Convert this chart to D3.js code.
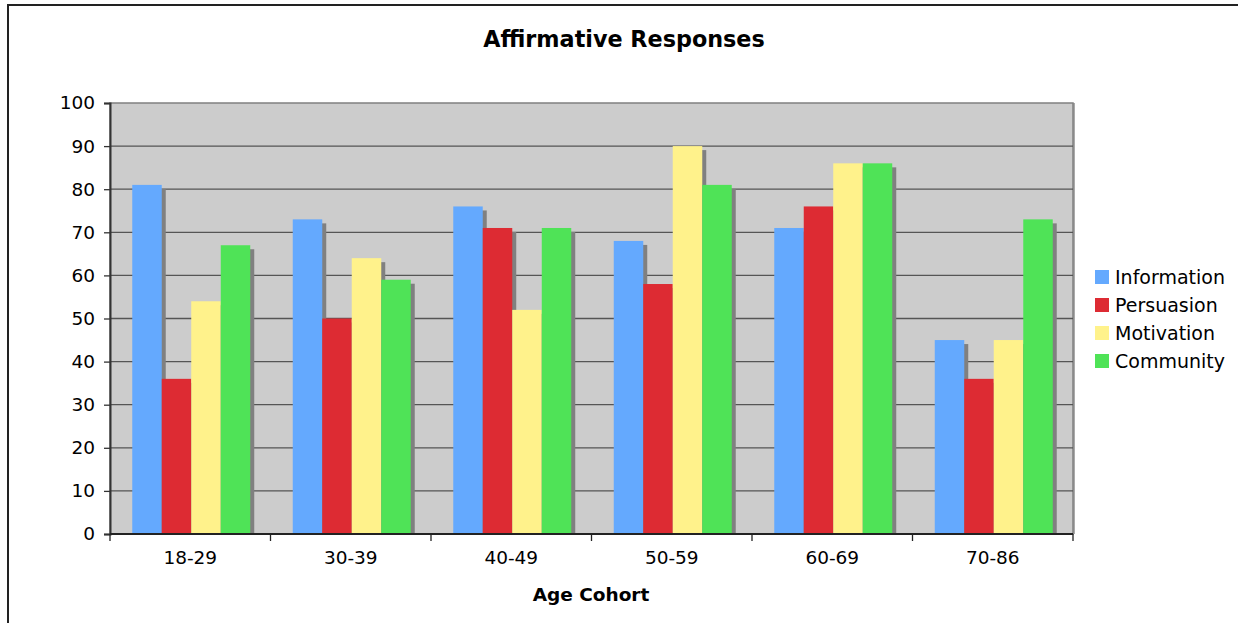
<!DOCTYPE html>
<html>
<head>
<meta charset="utf-8">
<script src="https://cdn.jsdelivr.net/npm/d3@7"></script>
<style>
  body { margin: 0; background: #fff; }
  text { font-family: "DejaVu Sans", Verdana, sans-serif; fill: #000; }
</style>
</head>
<body>
<svg id="chart" width="1238" height="623"></svg>
<script>
var cohorts = ["18-29", "30-39", "40-49", "50-59", "60-69", "70-86"];
var seriesNames = ["Information", "Persuasion", "Motivation", "Community"];
var information = [81, 73, 76, 68, 71, 45];
var persuasion = [36, 50, 71, 58, 76, 36];
var motivation = [54, 64, 52, 90, 86, 45];
var community = [67, 59, 71, 81, 86, 73];
var yTicks = [0, 10, 20, 30, 40, 50, 60, 70, 80, 90, 100];
var colors = ["#64a9fe", "#dd2b33", "#fff28b", "#4fe357"];

var seriesValues = [information, persuasion, motivation, community];

var svg = d3.select("#chart");

// outer frame
svg.append("rect")
  .attr("x", 8).attr("y", 5)
  .attr("width", 1300).attr("height", 700)
  .attr("fill", "#fff")
  .attr("stroke", "#222")
  .attr("stroke-width", 2);

var plotLeft = 110, plotTop = 103, plotRight = 1073, plotBottom = 534;

var x = d3.scaleBand()
  .domain(cohorts)
  .range([plotLeft, plotRight]);

var inner = d3.scaleBand()
  .domain(seriesNames)
  .range([0, 118]);

var y = d3.scaleLinear()
  .domain([0, 100])
  .range([plotBottom, plotTop]);

// plot background
svg.append("rect")
  .attr("x", plotLeft).attr("y", plotTop)
  .attr("width", plotRight - plotLeft + 2).attr("height", plotBottom - plotTop)
  .attr("fill", "#aaaaaa");
svg.append("rect")
  .attr("x", plotLeft).attr("y", plotTop)
  .attr("width", plotRight - plotLeft).attr("height", plotBottom - plotTop)
  .attr("fill", "#cccccc")
  .attr("stroke", "#808080")
  .attr("stroke-width", 1.5);

// gridlines
svg.append("g")
  .selectAll("line")
  .data(yTicks.slice(1, -1))
  .enter()
  .append("line")
  .attr("x1", plotLeft).attr("x2", plotRight)
  .attr("y1", d => y(d)).attr("y2", d => y(d))
  .attr("stroke", "#555")
  .attr("stroke-width", 1.3);

var groups = svg.append("g")
  .selectAll("g")
  .data(cohorts)
  .enter()
  .append("g")
  .attr("transform", d => "translate(" + (x(d) + (x.bandwidth() - 118) / 2 + 1) + ",0)");

// shadows
groups.selectAll(".shadow")
  .data((c, i) => seriesNames.map((s, j) => ({ s: s, v: seriesValues[j][i] })))
  .enter()
  .append("rect")
  .attr("class", "shadow")
  .attr("x", d => inner(d.s) + 4)
  .attr("y", d => y(d.v) + 4)
  .attr("width", inner.bandwidth())
  .attr("height", d => plotBottom - y(d.v) - 4)
  .attr("fill", "#808080");

groups.selectAll(".bar")
  .data((c, i) => seriesNames.map((s, j) => ({ s: s, j: j, v: seriesValues[j][i] })))
  .enter()
  .append("rect")
  .attr("class", "bar")
  .attr("x", d => inner(d.s))
  .attr("y", d => y(d.v))
  .attr("width", inner.bandwidth())
  .attr("height", d => plotBottom - y(d.v))
  .attr("fill", d => colors[d.j]);

// y axis
var yAxis = svg.append("g")
  .attr("transform", "translate(" + plotLeft + ",0)")
  .call(d3.axisLeft(y).tickValues(yTicks).tickSize(6).tickPadding(9));
yAxis.select(".domain").attr("stroke", "#333").attr("stroke-width", 2);
yAxis.selectAll(".tick line").attr("stroke", "#333").attr("stroke-width", 1.3);
yAxis.selectAll("text").style("font-size", "18.5px").attr("fill", "#000");

// x axis
var xAxis = svg.append("g")
  .attr("transform", "translate(0," + plotBottom + ")")
  .call(d3.axisBottom(x).tickSize(0).tickPadding(17));
xAxis.select(".domain").remove();
xAxis.selectAll("text").style("font-size", "18.5px").attr("fill", "#000");
svg.append("line")
  .attr("x1", plotLeft).attr("x2", plotRight)
  .attr("y1", plotBottom).attr("y2", plotBottom)
  .attr("stroke", "#222").attr("stroke-width", 2);
svg.append("g")
  .selectAll("line")
  .data(cohorts.concat(["end"]))
  .enter()
  .append("line")
  .attr("x1", d => d === "end" ? plotRight : x(d))
  .attr("x2", d => d === "end" ? plotRight : x(d))
  .attr("y1", plotBottom).attr("y2", plotBottom + 7)
  .attr("stroke", "#222").attr("stroke-width", 1.3);

// titles
svg.append("text")
  .attr("x", 624).attr("y", 47)
  .attr("text-anchor", "middle")
  .style("font-size", "22.3px").style("font-weight", "bold")
  .text("Affirmative Responses");
svg.append("text")
  .attr("x", 591).attr("y", 601)
  .attr("text-anchor", "middle")
  .style("font-size", "18.5px").style("font-weight", "bold")
  .text("Age Cohort");

// legend
var legend = svg.append("g")
  .selectAll("g")
  .data(seriesNames)
  .enter()
  .append("g")
  .attr("transform", (d, i) => "translate(1095," + (270 + i * 28) + ")");
legend.append("rect")
  .attr("width", 14).attr("height", 14)
  .attr("fill", (d, i) => colors[i]);
legend.append("text")
  .attr("x", 20).attr("y", 14)
  .style("font-size", "19px")
  .text(d => d);
</script>
</body>
</html>
